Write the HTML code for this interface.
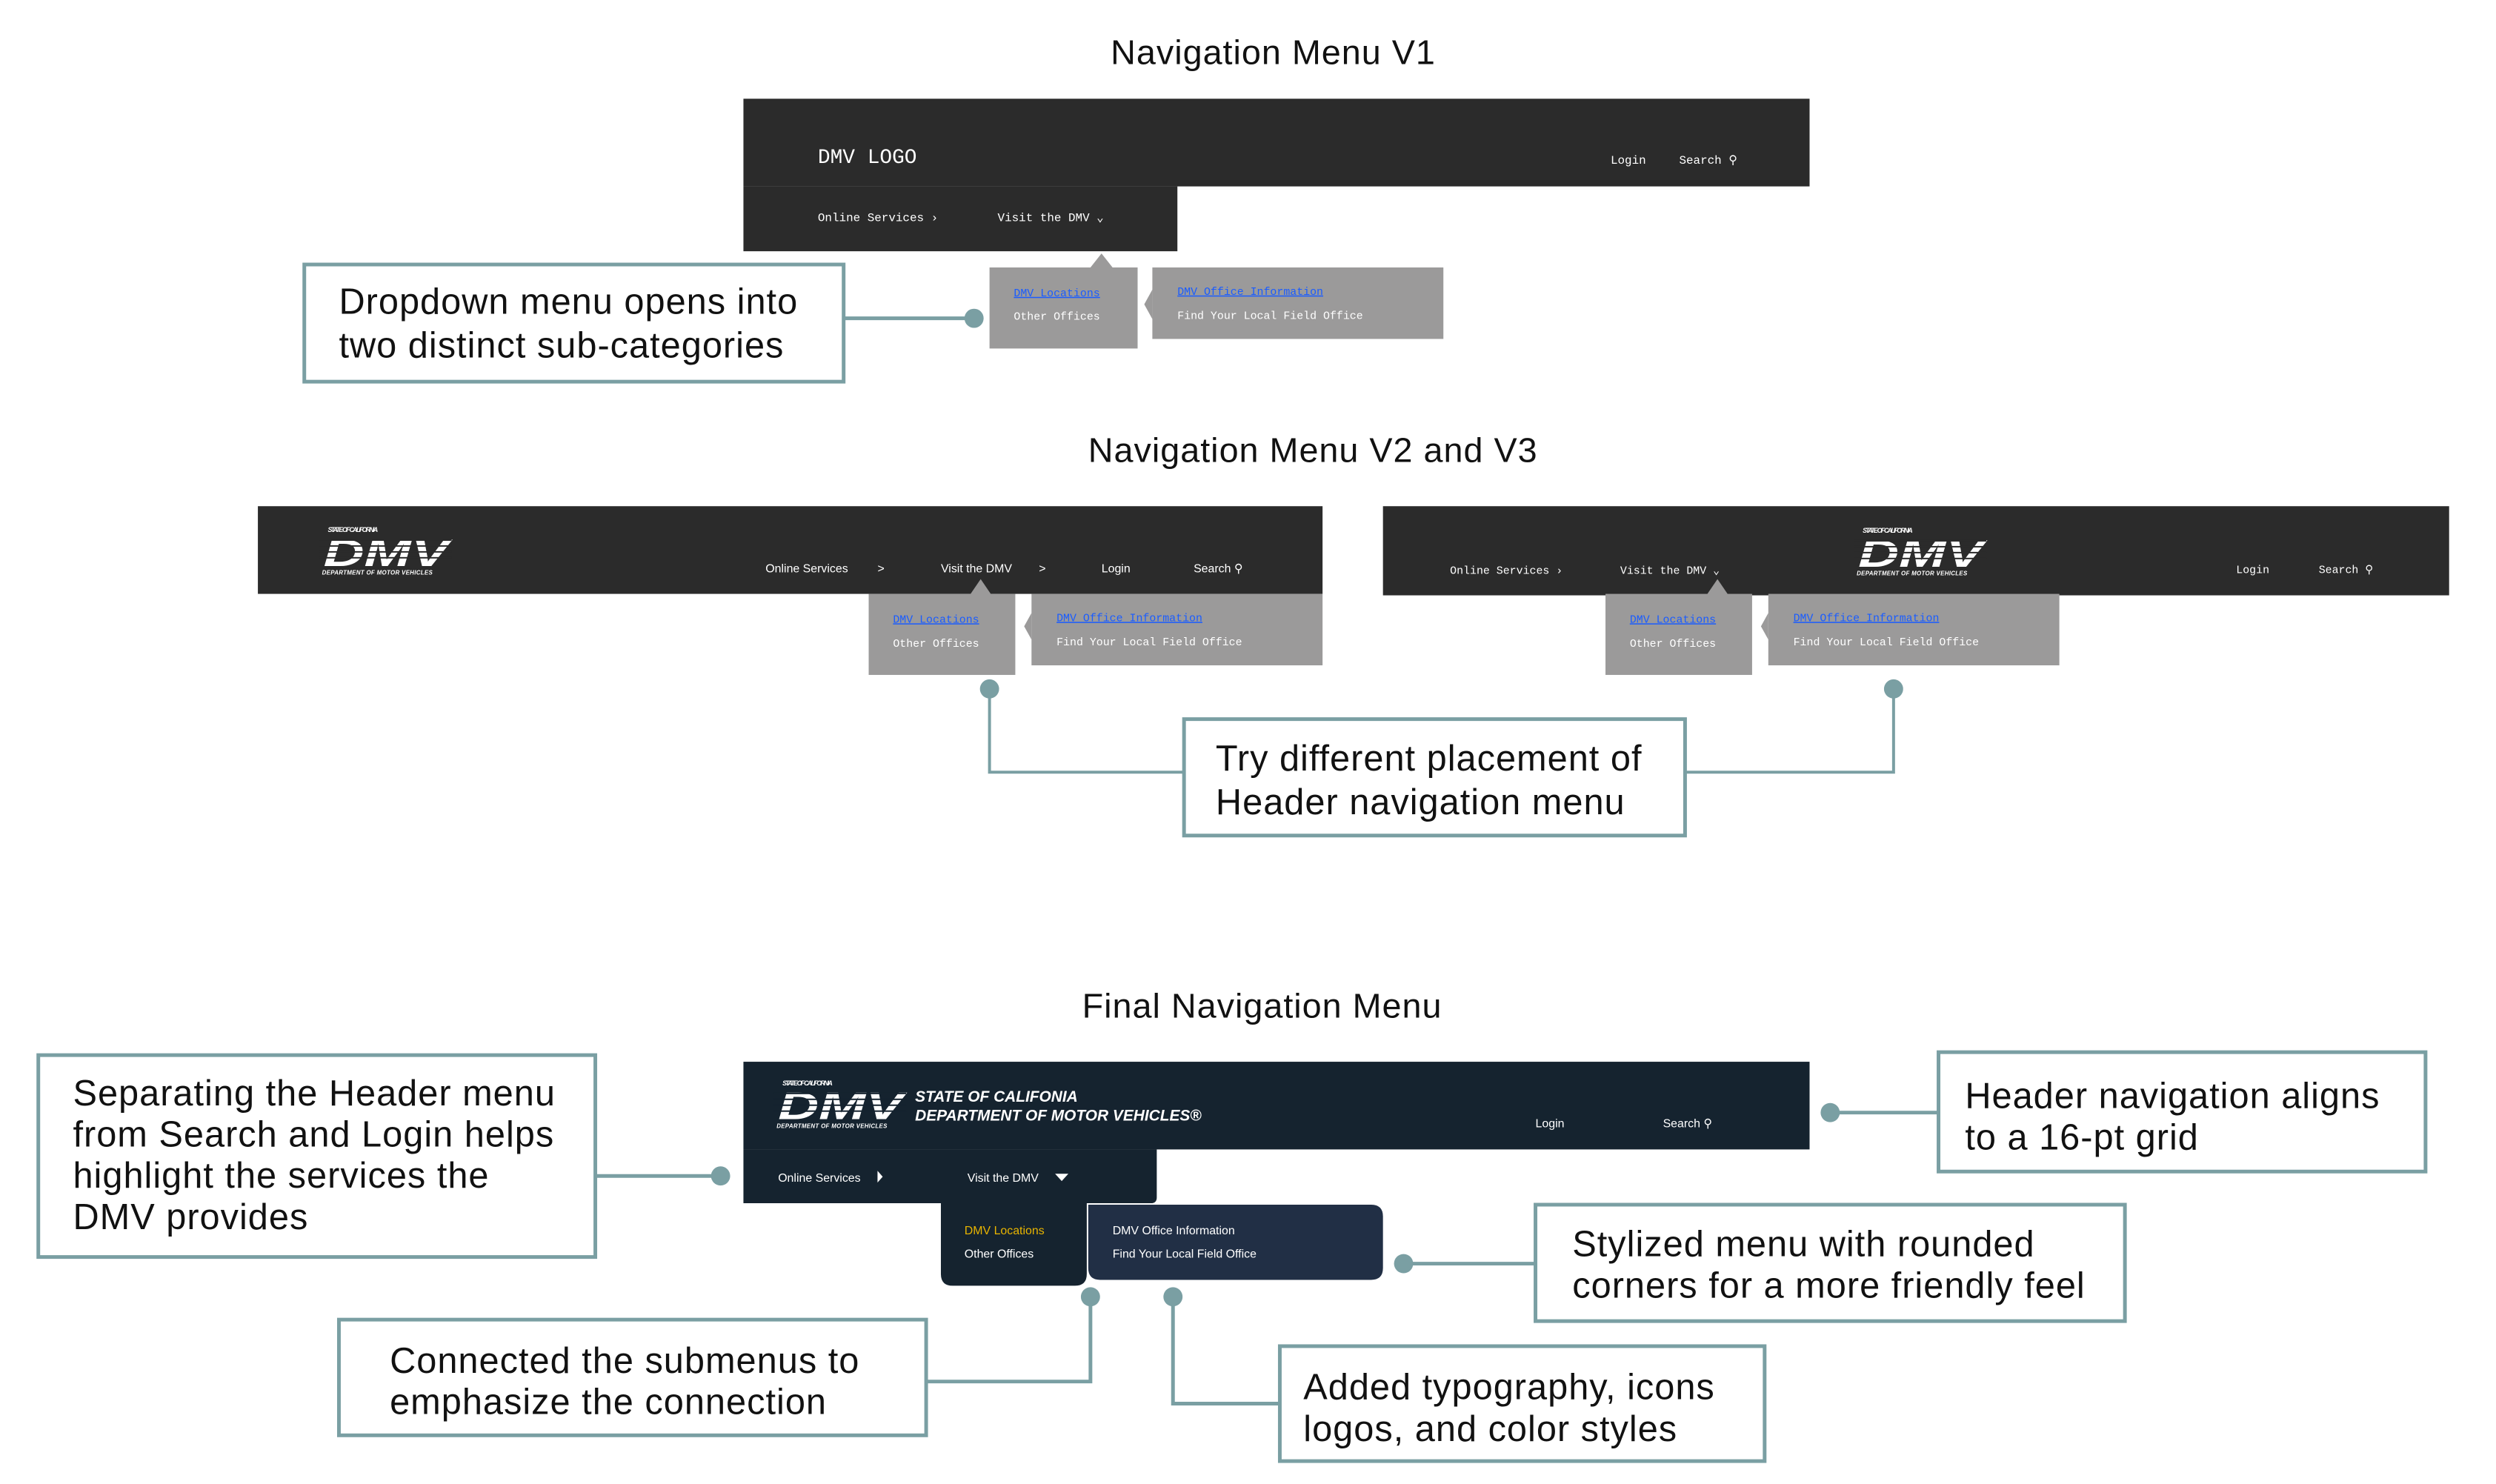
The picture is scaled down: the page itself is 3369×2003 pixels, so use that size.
<!DOCTYPE html>
<html><head><meta charset="utf-8"><style>html,body{margin:0;padding:0;background:#fff}svg{display:block}</style></head>
<body>
<svg width="3369" height="2003" viewBox="0 0 3369 2003" xmlns="http://www.w3.org/2000/svg">
<defs>
<g id="logo">
  <text x="0" y="6" font-family="Liberation Sans" font-size="9" font-style="italic" font-weight="bold" fill="#fff" textLength="68">STATE OF CALIFORNIA</text>
  <text x="-6" y="52" font-family="Liberation Sans" font-size="52" font-style="italic" font-weight="bold" fill="#fff" textLength="170" lengthAdjust="spacingAndGlyphs">DMV</text>
  <rect x="-12" y="16" width="180" height="2" fill="currentColor"/>
  <rect x="-12" y="24" width="180" height="2" fill="currentColor"/>
  <rect x="-12" y="32" width="180" height="2" fill="currentColor"/>
  <rect x="-12" y="40" width="180" height="2" fill="currentColor"/>
  <text x="-8" y="64" font-family="Liberation Sans" font-size="8" font-style="italic" font-weight="bold" fill="#fff" textLength="150">DEPARTMENT OF MOTOR VEHICLES</text>
</g>
</defs>
<g transform="scale(0.9945)">
<g font-family="Liberation Sans, sans-serif" fill="#111" letter-spacing="1">
<text x="1728" y="87" font-size="47" text-anchor="middle">Navigation Menu V1</text>
<text x="1782" y="627" font-size="47" text-anchor="middle">Navigation Menu V2 and V3</text>
<text x="1713" y="1381" font-size="47" text-anchor="middle">Final Navigation Menu</text>
</g>

<!-- V1 -->
<rect x="1009" y="134" width="1447" height="119" fill="#2b2b2b"/>
<rect x="1009" y="253" width="589" height="88" fill="#2b2b2b"/>
<g font-family="Liberation Mono, monospace" fill="#fff">
<text x="1110" y="221" font-size="28">DMV LOGO</text>
<text x="2186" y="222" font-size="16">Login</text>
<text x="2279" y="222" font-size="16">Search ⚲</text>
<text x="1110" y="300" font-size="16">Online Services ›</text>
<text x="1354" y="300" font-size="16">Visit the DMV ⌄</text>
</g>
<rect x="1343" y="363" width="201" height="110" fill="#9b9a9a"/>
<rect x="1564" y="363" width="395" height="97" fill="#9b9a9a"/>
<polygon points="1480,363 1495,344 1510,363" fill="#9b9a9a"/>
<polygon points="1564,393 1553,413 1564,433" fill="#9b9a9a"/>
<g font-family="Liberation Mono, monospace" font-size="15">
<text x="1376" y="402" fill="#1a5cff" text-decoration="underline">DMV Locations</text>
<text x="1376" y="434" fill="#fff">Other Offices</text>
<text x="1598" y="400" fill="#1a5cff" text-decoration="underline">DMV Office Information</text>
<text x="1598" y="433" fill="#fff">Find Your Local Field Office</text>
</g>
<rect x="413" y="359" width="732" height="159" fill="#fff" stroke="#7a9fa3" stroke-width="5"/>
<g font-family="Liberation Sans, sans-serif" font-size="49" fill="#111" letter-spacing="1">
<text x="460" y="426">Dropdown menu opens into</text>
<text x="460" y="485">two distinct sub-categories</text>
</g>
<line x1="1145" y1="432" x2="1322" y2="432" stroke="#7a9fa3" stroke-width="5"/>
<circle cx="1322" cy="432" r="13" fill="#7a9fa3"/>

<!-- V2 -->
<rect x="350" y="687" width="1445" height="119" fill="#2b2b2b"/>
<g color="#2b2b2b" transform="translate(445,716)"><use href="#logo"/></g>
<g font-family="Liberation Sans, sans-serif" font-size="16" fill="#fff">
<text x="1039" y="777">Online Services</text><text x="1191" y="777">&gt;</text>
<text x="1277" y="777">Visit the DMV</text><text x="1410" y="777">&gt;</text>
<text x="1495" y="777">Login</text>
<text x="1620" y="777">Search ⚲</text>
</g>
<rect x="1179" y="806" width="199" height="110" fill="#9b9a9a"/>
<rect x="1400" y="806" width="395" height="97" fill="#9b9a9a"/>
<polygon points="1316,808 1331,786 1346,808" fill="#9b9a9a"/>
<polygon points="1400,832 1390,850 1400,868" fill="#9b9a9a"/>
<g font-family="Liberation Mono, monospace" font-size="15">
<text x="1212" y="845" fill="#1a5cff" text-decoration="underline">DMV Locations</text>
<text x="1212" y="878" fill="#fff">Other Offices</text>
<text x="1434" y="843" fill="#1a5cff" text-decoration="underline">DMV Office Information</text>
<text x="1434" y="876" fill="#fff">Find Your Local Field Office</text>
</g>

<!-- V3 -->
<rect x="1877" y="687" width="1447" height="121" fill="#2b2b2b"/>
<g color="#2b2b2b" transform="translate(2528,717)"><use href="#logo"/></g>
<g font-family="Liberation Mono, monospace" font-size="15" fill="#fff">
<text x="1968" y="779">Online Services ›</text>
<text x="2199" y="779">Visit the DMV ⌄</text>
<text x="3035" y="778">Login</text>
<text x="3147" y="778">Search ⚲</text>
</g>
<rect x="2179" y="806" width="199" height="110" fill="#9b9a9a"/>
<rect x="2400" y="806" width="395" height="97" fill="#9b9a9a"/>
<polygon points="2316,808 2331,786 2346,808" fill="#9b9a9a"/>
<polygon points="2400,832 2390,850 2400,868" fill="#9b9a9a"/>
<g font-family="Liberation Mono, monospace" font-size="15">
<text x="2212" y="845" fill="#1a5cff" text-decoration="underline">DMV Locations</text>
<text x="2212" y="878" fill="#fff">Other Offices</text>
<text x="2434" y="843" fill="#1a5cff" text-decoration="underline">DMV Office Information</text>
<text x="2434" y="876" fill="#fff">Find Your Local Field Office</text>
</g>
<rect x="1607" y="976" width="680" height="158" fill="#fff" stroke="#7a9fa3" stroke-width="5"/>
<g font-family="Liberation Sans, sans-serif" font-size="49" fill="#111" letter-spacing="1">
<text x="1650" y="1046">Try different placement of</text>
<text x="1650" y="1105">Header navigation menu</text>
</g>
<polyline points="1343,935 1343,1048 1607,1048" fill="none" stroke="#7a9fa3" stroke-width="4"/>
<polyline points="2570,935 2570,1048 2287,1048" fill="none" stroke="#7a9fa3" stroke-width="4"/>
<circle cx="1343" cy="935" r="13" fill="#7a9fa3"/>
<circle cx="2570" cy="935" r="13" fill="#7a9fa3"/>

<!-- Final -->
<rect x="1009" y="1441" width="1447" height="119" fill="#15232f"/>
<path d="M1009,1560 H1570 V1625 Q1570,1633 1562,1633 H1009 Z" fill="#15232f"/>
<g color="#15232f" transform="translate(1062,1467)"><use href="#logo"/></g>
<g font-family="Liberation Sans, sans-serif" font-style="italic" font-weight="bold" font-size="21" fill="#fff">
<text x="1242" y="1495">STATE OF CALIFONIA</text>
<text x="1242" y="1521">DEPARTMENT OF MOTOR VEHICLES®</text>
</g>
<g font-family="Liberation Sans, sans-serif" font-size="16" fill="#fff">
<text x="2084" y="1530">Login</text>
<text x="2257" y="1530">Search ⚲</text>
<text x="1056" y="1604">Online Services</text>
<polygon points="1191,1589 1198,1597 1191,1605" fill="#fff"/>
<text x="1313" y="1604">Visit the DMV</text>
<polygon points="1432,1593 1450,1593 1441,1603" fill="#fff"/>
</g>
<path d="M1277,1633 H1475 V1729 Q1475,1745 1459,1745 H1293 Q1277,1745 1277,1729 Z" fill="#15232f"/>
<path d="M1477,1635 H1861 Q1877,1635 1877,1651 V1721 Q1877,1737 1861,1737 H1493 Q1477,1737 1477,1721 Z" fill="#212f45"/>
<g font-family="Liberation Sans, sans-serif" font-size="16">
<text x="1309" y="1675" fill="#e8b400">DMV Locations</text>
<text x="1309" y="1707" fill="#fff">Other Offices</text>
<text x="1510" y="1675" fill="#fff">DMV Office Information</text>
<text x="1510" y="1707" fill="#fff">Find Your Local Field Office</text>
</g>

<g fill="#fff" stroke="#7a9fa3" stroke-width="5">
<rect x="52" y="1432" width="756" height="274"/>
<rect x="2631" y="1428" width="661" height="162"/>
<rect x="2084" y="1635" width="800" height="158"/>
<rect x="460" y="1791" width="797" height="157"/>
<rect x="1737" y="1827" width="658" height="156"/>
</g>
<g font-family="Liberation Sans, sans-serif" font-size="49" fill="#111" letter-spacing="1">
<text x="99" y="1500">Separating the Header menu</text>
<text x="99" y="1556">from Search and Login helps</text>
<text x="99" y="1612">highlight the services the</text>
<text x="99" y="1668">DMV provides</text>
<text x="2667" y="1504">Header navigation aligns</text>
<text x="2667" y="1560">to a 16-pt grid</text>
<text x="2134" y="1705">Stylized menu with rounded</text>
<text x="2134" y="1761">corners for a more friendly feel</text>
<text x="529" y="1863">Connected the submenus to</text>
<text x="529" y="1919">emphasize the connection</text>
<text x="1769" y="1899">Added typography, icons</text>
<text x="1769" y="1956">logos, and color styles</text>
</g>
<g fill="none" stroke="#7a9fa3" stroke-width="5">
<line x1="808" y1="1596" x2="978" y2="1596"/>
<line x1="2484" y1="1510" x2="2631" y2="1510"/>
<line x1="1905" y1="1715" x2="2084" y2="1715"/>
<polyline points="1257,1875 1480,1875 1480,1760"/>
<polyline points="1737,1905 1592,1905 1592,1760"/>
</g>
<g fill="#7a9fa3">
<circle cx="978" cy="1596" r="13"/>
<circle cx="2484" cy="1510" r="13"/>
<circle cx="1905" cy="1715" r="13"/>
<circle cx="1480" cy="1760" r="13"/>
<circle cx="1592" cy="1760" r="13"/>
</g>
</g>
</svg>
</body></html>
